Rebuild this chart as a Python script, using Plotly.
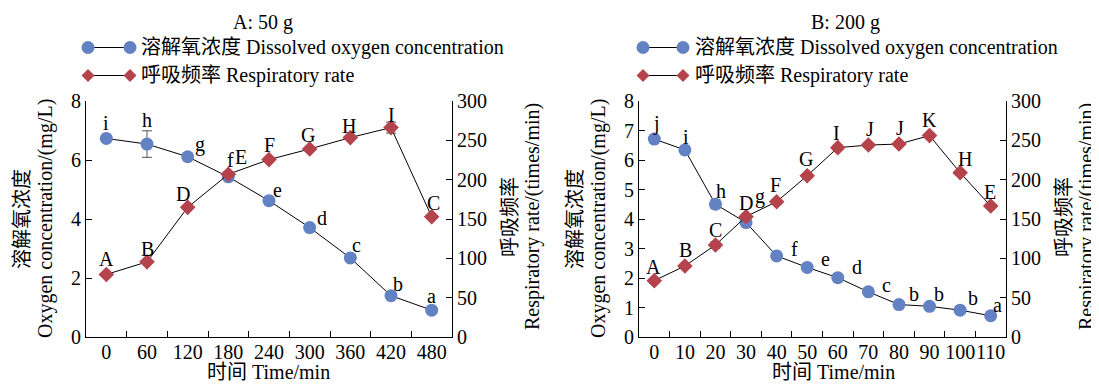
import plotly.graph_objects as go

# The page body has an 8px default margin, so the figure is drawn 8px in from the
# top-left corner of the 1099x385 window; all layout positions below are given in
# window pixels and converted with that offset.
OFF = 8
W, H = 1099 - OFF, 385 - OFF
FONT = "Liberation Serif, Times New Roman, Noto Sans CJK SC, serif"
FS = 20
BLUE = "#6282C4"
RED = "#B5434C"

# ---------------- data ----------------
time_a = ["0", "60", "120", "180", "240", "300", "360", "420", "480"]
do_a = [6.73, 6.54, 6.11, 5.43, 4.62, 3.71, 2.68, 1.40, 0.91]
do_a_err = [0.05, 0.45, 0.05, 0.05, 0.05, 0.05, 0.05, 0.05, 0.04]
rr_a = [79.5, 95.5, 164.8, 206.9, 225.5, 239.0, 253.5, 266.2, 152.9]
rr_a_err = [2, 2, 2, 3, 2, 2, 2, 7, 2]
do_a_letters = ["i", "h", "g", "f", "e", "d", "c", "b", "a"]
rr_a_letters = ["A", "B", "D", "E", "F", "G", "H", "I", "C"]

time_b = ["0", "10", "20", "30", "40", "50", "60", "70", "80", "90", "100", "110"]
do_b = [6.71, 6.34, 4.50, 3.88, 2.75, 2.36, 2.01, 1.53, 1.10, 1.04, 0.91, 0.72]
do_b_err = [0.08, 0.1, 0.15, 0.1, 0.08, 0.08, 0.06, 0.06, 0.06, 0.06, 0.06, 0.06]
rr_b = [71.6, 90.3, 117.0, 153.0, 172.0, 205.0, 240.7, 244.0, 245.3, 256.0, 208.9, 166.5]
rr_b_err = [3, 3, 4, 3, 3, 3, 3, 3, 3, 3, 3, 3]
do_b_letters = ["j", "i", "h", "g", "f", "e", "d", "c", "b", "b", "b", "a"]
rr_b_letters = ["A", "B", "C", "D", "F", "G", "I", "J", "J", "K", "H", "E"]

# label offsets in pixels (dx, dy up) - styling only
off_do_a = [(0, 15), (0, 24), (12, 12), (2, 17), (8, 11), (12, 10), (6, 13), (7, 12), (0, 14)]
off_rr_a = [(0, 15), (0, 13), (-5, 13), (13, 17), (0, 15), (-2, 14), (-1, 12), (0, 13), (2, 14)]
off_do_b = [(2, 16), (1, 13), (6, 13), (14, 26), (18, 7), (18, 8), (19, 11), (18, 7), (15, 11), (9, 12), (13, 12), (7, 11)]
off_rr_b = [(-1, 14), (1, 16), (0, 15), (0, 14), (-1, 17), (-1, 17), (-1, 15), (2, 16), (1, 16), (0, 16), (5, 14), (-1, 14)]

# ---------------- layout geometry (window pixels) ----------------
PA = dict(x0=86, x1=452, y0=101, y1=337)
PB = dict(x0=639, x1=1006, y0=101, y1=337)


def px(x):
    return (x - OFF) / W


def py(y):
    return 1 - (y - OFF) / H


def xdom(p):
    return [px(p["x0"]), px(p["x1"])]


def ydom(p):
    return [py(p["y1"]), py(p["y0"])]


fig = go.Figure()

line_style = dict(color="black", width=1)
err_style = dict(type="data", thickness=1, width=5, color="#555555")


def add_panel(times, do, do_err, rr, rr_err, xa, ya, ya2):
    fig.add_trace(go.Scatter(
        x=times, y=do, mode="lines+markers", xaxis=xa, yaxis=ya,
        line=line_style,
        marker=dict(symbol="circle", size=13, color=BLUE),
        error_y=dict(array=do_err, **err_style),
        showlegend=False))
    fig.add_trace(go.Scatter(
        x=times, y=rr, mode="lines+markers", xaxis=xa, yaxis=ya2,
        line=line_style,
        marker=dict(symbol="diamond", size=12, color=RED),
        error_y=dict(array=rr_err, **err_style),
        showlegend=False))


add_panel(time_a, do_a, do_a_err, rr_a, rr_a_err, "x", "y", "y2")
add_panel(time_b, do_b, do_b_err, rr_b, rr_b_err, "x2", "y3", "y4")

tickfont = dict(family=FONT, size=FS, color="black")
common_ax = dict(showline=True, linecolor="black", linewidth=1, ticks="inside",
                 ticklen=6, tickwidth=1, tickcolor="black", showgrid=False,
                 zeroline=False, tickfont=tickfont, automargin=False, tickangle=0)
x_ax = dict(type="category", tickson="boundaries", ticklabelstandoff=-3, **common_ax)

fig.update_layout(
    template="none",
    width=W, height=H,
    margin=dict(l=0, r=0, t=0, b=0, pad=0),
    paper_bgcolor="white", plot_bgcolor="white",
    font=dict(family=FONT, size=FS, color="black"),
    xaxis=dict(domain=xdom(PA), anchor="y", categoryorder="array", categoryarray=time_a,
               range=[-0.5, len(time_a) - 0.5], **x_ax),
    yaxis=dict(domain=ydom(PA), anchor="x", range=[0, 8], dtick=2, **common_ax),
    yaxis2=dict(anchor="x", overlaying="y", side="right", range=[0, 300], dtick=50, **common_ax),
    xaxis2=dict(domain=xdom(PB), anchor="y3", categoryorder="array", categoryarray=time_b,
                range=[-0.5, len(time_b) - 0.5], **x_ax),
    yaxis3=dict(domain=ydom(PB), anchor="x2", range=[0, 8], dtick=1, **common_ax),
    yaxis4=dict(anchor="x2", overlaying="y3", side="right", range=[0, 300], dtick=50, **common_ax),
    showlegend=False,
)

ann = []


def letters(vals, labs, offs, xref, yref):
    # category axes: annotation x is the category index
    for i, (v, lab, (dx, dy)) in enumerate(zip(vals, labs, offs)):
        ann.append(dict(x=i, y=v, xref=xref, yref=yref, text=lab, showarrow=False,
                        xanchor="center", yanchor="middle", xshift=dx, yshift=dy,
                        font=dict(family=FONT, size=FS, color="black")))


letters(do_a, do_a_letters, off_do_a, "x", "y")
letters(rr_a, rr_a_letters, off_rr_a, "x", "y2")
letters(do_b, do_b_letters, off_do_b, "x2", "y3")
letters(rr_b, rr_b_letters, off_rr_b, "x2", "y4")


def ptext(x, y, text, angle=0, xanchor="center"):
    ann.append(dict(x=px(x), y=py(y), xref="paper", yref="paper", text=text,
                    showarrow=False, textangle=angle, xanchor=xanchor, yanchor="middle",
                    font=dict(family=FONT, size=FS, color="black")))


# panel titles
ptext(263, 22, "A: 50 g")
ptext(845, 22, "B: 200 g")

# axis titles
for p, xt in ((PA, 268), (PB, 833)):
    ptext(xt, 372, "时间 Time/min")
    ptext(p["x0"] - 64, 219, "溶解氧浓度", -90)
    ptext(p["x0"] - 41, 219, "Oxygen concentration/(mg/L)", -90)
    ptext(p["x1"] + 58, 217, "呼吸频率", -90)
    ptext(p["x1"] + 80, 217, "Respiratory rate/(times/min)", -90)

# legends built from shapes
shapes = []


def leg_line(xa_, xb_, y):
    shapes.append(dict(type="line", xref="paper", yref="paper", x0=px(xa_), x1=px(xb_),
                       y0=py(y), y1=py(y), line=dict(color="black", width=1)))


def leg_circle(x, y, r=6.5):
    shapes.append(dict(type="circle", xref="paper", yref="paper",
                       x0=px(x - r), x1=px(x + r), y0=py(y + r), y1=py(y - r),
                       fillcolor=BLUE, line=dict(width=0)))


def leg_diamond(x, y, r=6.5):
    path = "M {} {} L {} {} L {} {} L {} {} Z".format(
        px(x - r), py(y), px(x), py(y - r), px(x + r), py(y), px(x), py(y + r))
    shapes.append(dict(type="path", xref="paper", yref="paper", path=path,
                       fillcolor=RED, line=dict(width=0)))


legends = [(88, 130, 139), (643, 683, 693)]
for xa_, xb_, xt in legends:
    leg_line(xa_, xb_, 47.5)
    leg_circle(xa_, 47.5)
    leg_circle(xb_, 47.5)
    leg_line(xa_, xb_, 75.5)
    leg_diamond(xa_, 75.5)
    leg_diamond(xb_, 75.5)
    ptext(xt, 47.5, "溶解氧浓度 Dissolved oxygen concentration", xanchor="left")
    ptext(xt, 75.5, "呼吸频率 Respiratory rate", xanchor="left")

fig.update_layout(annotations=ann, shapes=shapes)
fig.write_html("out.html")
